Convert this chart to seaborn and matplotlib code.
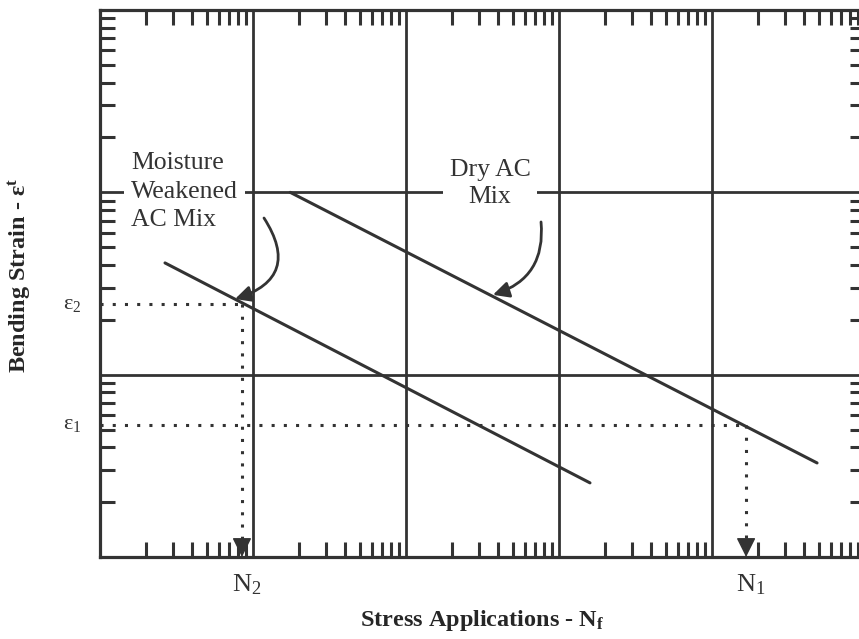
import numpy as np
import pandas as pd
import matplotlib
matplotlib.use("Agg")
import matplotlib.pyplot as plt
import matplotlib.ticker as mticker
import matplotlib.transforms as mtrans
import seaborn as sns

# values (log-log, arbitrary units)
moist_N = [2.66, 1594]
moist_strain = [41.0, 2.55]
dry_N = [17.5, 48600]
dry_strain = [100.0, 3.28]
N2, N1 = 8.47, 16700
eps2, eps1 = 24.4, 5.3
x_range = (1, 1e5)
y_range = (1, 1e3)

# arrow tips / tails for the curved callouts
moist_arrow_tip, moist_arrow_tail = (7.63, 26.0), (11.8, 72.3)
dry_arrow_tip, dry_arrow_tail = (370, 27.4), (763, 68.8)
moist_text_xy = (1.6, 101)
dry_text_xy = (354, 112)

ink = "#333333"

sns.set_theme(style="white")
plt.rcParams["font.family"] = ["Liberation Serif", "DejaVu Serif"]
plt.rcParams["mathtext.fontset"] = "custom"
plt.rcParams["mathtext.rm"] = "Liberation Serif"
plt.rcParams["mathtext.it"] = "Liberation Serif:italic"
plt.rcParams["mathtext.bf"] = "Liberation Serif:bold"
plt.rcParams["text.color"] = ink

fig = plt.figure(figsize=(8.59, 6.39), dpi=100)
ax = fig.add_axes([100 / 859, 82 / 639, 765 / 859, 547 / 639])

df = pd.DataFrame({
    "N": moist_N + dry_N,
    "strain": moist_strain + dry_strain,
    "mix": ["Moisture Weakened AC Mix"] * 2 + ["Dry AC Mix"] * 2,
})
sns.lineplot(data=df, x="N", y="strain", hue="mix", units="mix", estimator=None,
             palette=[ink, ink], legend=False, linewidth=2.2, ax=ax, zorder=4)

ax.set_xscale("log")
ax.set_yscale("log")
ax.set_xlim(*x_range)
ax.set_ylim(*y_range)

for axis in (ax.xaxis, ax.yaxis):
    axis.set_major_locator(mticker.LogLocator(base=10))
    axis.set_minor_locator(mticker.LogLocator(base=10, subs=np.arange(2, 10)))
    axis.set_major_formatter(mticker.NullFormatter())
    axis.set_minor_formatter(mticker.NullFormatter())
ax.tick_params(which="major", length=0)
ax.tick_params(which="minor", direction="in", length=10.5, width=2.2, color=ink,
               top=True, right=True, bottom=True, left=True)
ax.grid(True, which="major", color=ink, linewidth=2.0)
ax.set_axisbelow(True)
for s in ax.spines.values():
    s.set_color(ink)
    s.set_linewidth(2.3)

# dotted read-off lines
dot = dict(color=ink, linewidth=2.2, linestyle=(0, (1, 3)), dash_capstyle="butt", zorder=3)
for n, e in [(N2, eps2), (N1, eps1)]:
    ax.plot([x_range[0], n], [e, e], **dot)
    ax.plot([n, n], [e, y_range[0] * 1.15], **dot)
    ax.annotate("", xy=(n, y_range[0]), xytext=(n, y_range[0] * 1.22),
                arrowprops=dict(arrowstyle="-|>", color=ink, lw=1.0,
                                mutation_scale=30, shrinkA=0, shrinkB=0))

# curved callout arrows
ax.annotate("", xy=moist_arrow_tip, xytext=moist_arrow_tail,
            arrowprops=dict(arrowstyle="-|>", color=ink, lw=2.0, mutation_scale=24,
                            shrinkA=0, shrinkB=0, connectionstyle="arc3,rad=-0.65"),
            zorder=5)
ax.annotate("", xy=dry_arrow_tip, xytext=dry_arrow_tail,
            arrowprops=dict(arrowstyle="-|>", color=ink, lw=2.0, mutation_scale=24,
                            shrinkA=0, shrinkB=0, connectionstyle="arc3,rad=-0.4"),
            zorder=5)

box = dict(facecolor="white", edgecolor="none", pad=5)
ax.text(*moist_text_xy, "Moisture\nWeakened\nAC Mix", fontsize=18.5, ha="left",
        va="center", linespacing=1.38, bbox=box, zorder=3)
ax.text(*dry_text_xy, "Dry AC\nMix", fontsize=18.5, ha="center", va="center",
        multialignment="center", linespacing=1.32, bbox=box, zorder=3)

# N and epsilon labels
xb = mtrans.blended_transform_factory(ax.transData, ax.transAxes)
yb = mtrans.blended_transform_factory(ax.transAxes, ax.transData)
for n, lab in [(N2, r"$\mathrm{N_2}$"), (N1, r"$\mathrm{N_1}$")]:
    ax.annotate(lab, xy=(n, 0), xycoords=xb, xytext=(-10, -15), textcoords="offset pixels",
                ha="left", va="top", fontsize=19)
for e, lab in [(eps2, r"$\mathrm{\varepsilon_2}$"), (eps1, r"$\mathrm{\varepsilon_1}$")]:
    ax.annotate(lab, xy=(0, e), xycoords=yb, xytext=(-19, 0), textcoords="offset pixels",
                ha="right", va="center", fontsize=16)

ax.set_xlabel(r"Stress Applications - $\mathbf{N_f}$", fontsize=17.5, fontweight="bold")
ax.set_ylabel(r"Bending Strain - $\mathbf{\varepsilon^t}$", fontsize=17.5, fontweight="bold")
ax.xaxis.set_label_coords(0.5, -0.094)
ax.yaxis.set_label_coords(-0.088, 0.515)

fig.savefig("out.png", dpi=100)
